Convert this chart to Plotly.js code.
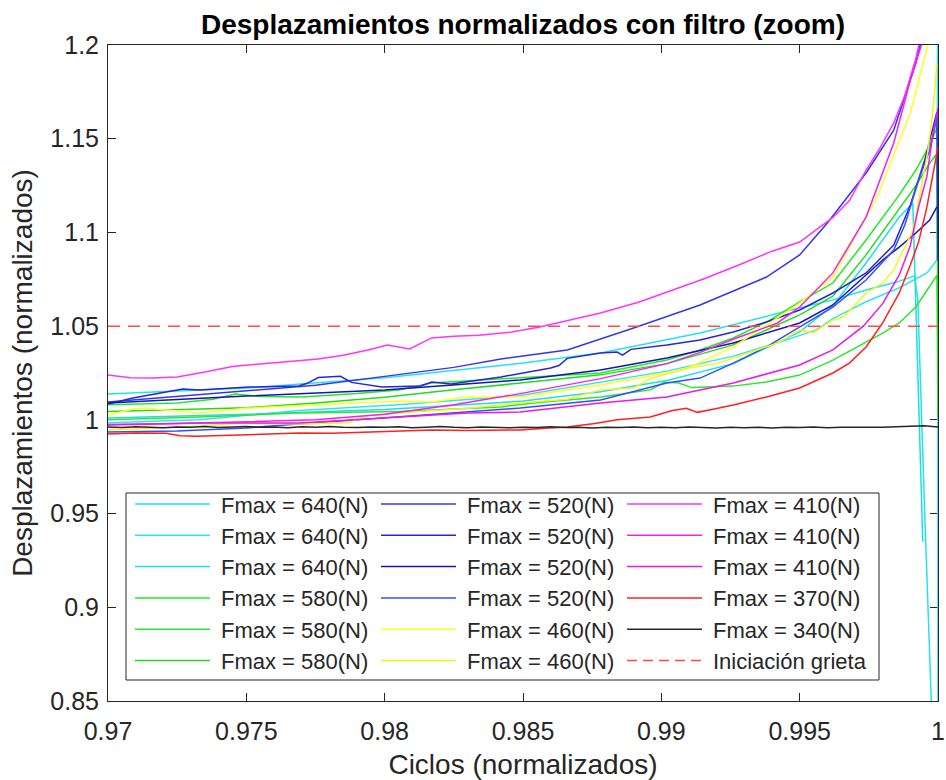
<!DOCTYPE html>
<html>
<head>
<meta charset="utf-8">
<script src="https://cdn.plot.ly/plotly-3.0.1.min.js"></script>
<style>html,body{margin:0;padding:0;background:#fff}</style>
</head>
<body>
<div id="chart" style="width:946px;height:780px"></div>
<script>
// ---- axis ticks ----
const xTickVals = [0.97, 0.975, 0.98, 0.985, 0.99, 0.995, 1];
const xTickText = ['0.97', '0.975', '0.98', '0.985', '0.99', '0.995', '1'];
const yTickVals = [0.85, 0.9, 0.95, 1, 1.05, 1.1, 1.15, 1.2];
const yTickText = ['0.85', '0.9', '0.95', '1', '1.05', '1.1', '1.15', '1.2'];

// ---- Fmax = 640 N ----
const cyan1X = [0.9700, 0.9750, 0.9800, 0.9850, 0.9878, 0.9914, 0.9944, 0.9962, 0.9974, 0.9985, 0.99916, 0.99927, 0.99952, 0.99974, 0.99990];
const cyan1Y = [1.0138, 1.0170, 1.0225, 1.0303, 1.0357, 1.0463, 1.0575, 1.0640, 1.0693, 1.0735, 1.0768, 1.0640, 0.9500, 0.8516, 0.7900];
const cyan2X = [0.9700, 0.9733, 0.9769, 0.9805, 0.9849, 0.9878, 0.9902, 0.9926, 0.9944, 0.9956, 0.9962, 0.9974, 0.9986, 0.9996, 0.99996, 0.99999, 1.0000];
const cyan2Y = [0.9985, 1.0000, 1.0050, 1.0080, 1.0130, 1.0200, 1.0260, 1.0340, 1.0420, 1.0480, 1.0540, 1.0630, 1.0705, 1.0784, 1.0853, 1.2300, 0.7900];
const cyan3X = [0.9700, 0.9750, 0.9800, 0.9850, 0.9878, 0.9902, 0.9926, 0.9950, 0.9962, 0.9974, 0.9980, 0.9986, 0.99909, 0.99945];
const cyan3Y = [1.0010, 1.0030, 1.0055, 1.0100, 1.0150, 1.0210, 1.0300, 1.0469, 1.0610, 1.0837, 1.0960, 1.1082, 1.1157, 0.9350];

// ---- Fmax = 580 N ----
const green1X = [0.9700, 0.9725, 0.9738, 0.9746, 0.9755, 0.9770, 0.9790, 0.9805, 0.9817, 0.9849, 0.9878, 0.9902, 0.9914, 0.9926, 0.9938, 0.9950, 0.9962, 0.9974, 0.9986, 0.9992, 0.9997, 0.99996];
const green1Y = [1.0080, 1.0090, 1.0110, 1.0138, 1.0125, 1.0122, 1.0140, 1.0159, 1.0197, 1.0223, 1.0250, 1.0319, 1.0373, 1.0437, 1.0522, 1.0629, 1.0730, 1.0960, 1.1200, 1.1333, 1.1466, 1.1557];
const green2X = [0.9700, 0.9733, 0.9769, 0.9805, 0.9842, 0.9854, 0.9878, 0.9896, 0.9901, 0.9906, 0.9911, 0.9926, 0.9938, 0.9950, 0.9962, 0.9974, 0.9980, 0.9986, 0.9992, 0.99996, 1.0000];
const green2Y = [1.0000, 1.0015, 1.0037, 1.0045, 1.0069, 1.0090, 1.0122, 1.0160, 1.0200, 1.0198, 1.0172, 1.0180, 1.0202, 1.0239, 1.0319, 1.0415, 1.0463, 1.0517, 1.0602, 1.0770, 1.0000];
const green3X = [0.9700, 0.9750, 0.9775, 0.9800, 0.9825, 0.9849, 0.9878, 0.9902, 0.9926, 0.9950, 0.9962, 0.9974, 0.9986, 0.9992, 0.9997, 0.99996, 1.0000];
const green3Y = [1.0045, 1.0065, 1.0090, 1.0120, 1.0160, 1.0195, 1.0240, 1.0300, 1.0400, 1.0560, 1.0660, 1.0880, 1.1130, 1.1250, 1.1370, 1.1420, 1.0430];

// ---- Fmax = 520 N ----
const blue1X = [0.9700, 0.9725, 0.9750, 0.9775, 0.9800, 0.9825, 0.9842, 0.9866, 0.9890, 0.9914, 0.9938, 0.9950, 0.9960, 0.9974, 0.9984, 0.9992, 0.9994];
const blue1Y = [1.0095, 1.0125, 1.0155, 1.0185, 1.0232, 1.0280, 1.0325, 1.0373, 1.0490, 1.0613, 1.0762, 1.0880, 1.1050, 1.1317, 1.1546, 1.1904, 1.2027];
const blue2X = [0.9700, 0.9709, 0.9727, 0.9733, 0.9751, 0.9769, 0.9772, 0.9776, 0.9784, 0.9788, 0.9799, 0.9813, 0.9817, 0.9824, 0.9842, 0.9860, 0.9863, 0.9866, 0.9878, 0.9884, 0.9886, 0.9889, 0.9902, 0.9914, 0.9926, 0.9938, 0.9950, 0.9962, 0.9974, 0.9984, 0.9990, 0.99952, 0.99996, 1.0000];
const blue2Y = [1.0085, 1.0117, 1.0165, 1.0159, 1.0175, 1.0181, 1.0195, 1.0226, 1.0232, 1.0200, 1.0175, 1.0181, 1.0202, 1.0191, 1.0229, 1.0277, 1.0290, 1.0328, 1.0357, 1.0362, 1.0345, 1.0376, 1.0399, 1.0426, 1.0469, 1.0522, 1.0586, 1.0677, 1.0784, 1.0933, 1.1146, 1.1386, 1.1642, 1.0850];
const blue3X = [0.9700, 0.9750, 0.9800, 0.9825, 0.9849, 0.9878, 0.9902, 0.9926, 0.9950, 0.9962, 0.9968, 0.9974, 0.9980, 0.9986, 0.9992, 0.9997, 0.99996];
const blue3Y = [1.0090, 1.0127, 1.0159, 1.0186, 1.0213, 1.0266, 1.0330, 1.0410, 1.0517, 1.0613, 1.0693, 1.0773, 1.0853, 1.0922, 1.0997, 1.1066, 1.1136];
const blue4X = [0.9700, 0.9725, 0.9750, 0.9775, 0.9800, 0.9825, 0.9849, 0.9878, 0.9902, 0.9914, 0.9926, 0.9938, 0.9950, 0.9962, 0.9974, 0.9984, 0.9988, 0.9993, 0.9997, 0.99996];
const blue4Y = [0.9935, 0.9941, 0.9957, 0.9983, 1.0010, 1.0037, 1.0063, 1.0106, 1.0197, 1.0223, 1.0303, 1.0389, 1.0495, 1.0602, 1.0746, 1.0906, 1.1040, 1.1280, 1.1440, 1.1610];

// ---- Fmax = 460 N ----
const yellow1X = [0.9700, 0.9709, 0.9713, 0.9721, 0.9733, 0.9751, 0.9781, 0.9805, 0.9817, 0.9829, 0.9849, 0.9878, 0.9908, 0.9926, 0.9938, 0.9950, 0.9962, 0.9978, 0.9990, 0.99963];
const yellow1Y = [1.0026, 1.0058, 1.0063, 1.0053, 1.0037, 1.0063, 1.0085, 1.0100, 1.0095, 1.0122, 1.0122, 1.0186, 1.0266, 1.0389, 1.0506, 1.0623, 1.0762, 1.1189, 1.1637, 1.2000];
const yellow2X = [0.9700, 0.9725, 0.9750, 0.9769, 0.9787, 0.9793, 0.9805, 0.9829, 0.9849, 0.9866, 0.9878, 0.9890, 0.9896, 0.9909, 0.9920, 0.9932, 0.9942, 0.9950, 0.9955, 0.9962, 0.9966, 0.9971, 0.9974, 0.9980, 0.9984, 0.9991, 0.9996, 0.99981, 0.99996];
const yellow2Y = [0.9946, 0.9960, 0.9983, 0.9978, 0.9985, 1.0020, 1.0037, 1.0060, 1.0090, 1.0110, 1.0160, 1.0170, 1.0220, 1.0275, 1.0300, 1.0360, 1.0410, 1.0480, 1.0465, 1.0533, 1.0550, 1.0630, 1.0677, 1.0730, 1.0800, 1.1013, 1.1402, 1.1637, 1.1900];

// ---- Fmax = 410 N ----
const magenta1X = [0.9700, 0.9708, 0.9716, 0.9725, 0.9735, 0.9745, 0.9755, 0.9766, 0.9776, 0.9785, 0.9794, 0.9801, 0.9809, 0.9817, 0.9825, 0.9834, 0.9846, 0.9856, 0.9866, 0.9878, 0.9892, 0.9904, 0.9915, 0.9928, 0.9940, 0.9950, 0.9956, 0.9962, 0.9968, 0.9974, 0.9979, 0.9984, 0.9988, 0.9992, 0.9994];
const magenta1Y = [1.0239, 1.0225, 1.0223, 1.0229, 1.0255, 1.0285, 1.0298, 1.0312, 1.0325, 1.0345, 1.0373, 1.0399, 1.0378, 1.0437, 1.0446, 1.0452, 1.0469, 1.0495, 1.0530, 1.0570, 1.0629, 1.0690, 1.0750, 1.0826, 1.0900, 1.0949, 1.1013, 1.1080, 1.1170, 1.1333, 1.1450, 1.1584, 1.1730, 1.1930, 1.2060];
const magenta2X = [0.9700, 0.9725, 0.9750, 0.9775, 0.9800, 0.9825, 0.9849, 0.9878, 0.9902, 0.9914, 0.9926, 0.9942, 0.9950, 0.9962, 0.9974, 0.9984, 0.9990, 0.9994];
const magenta2Y = [0.9975, 0.9980, 0.9990, 1.0000, 1.0030, 1.0080, 1.0140, 1.0220, 1.0300, 1.0360, 1.0430, 1.0517, 1.0602, 1.0784, 1.1082, 1.1477, 1.1813, 1.2000];
const magenta3X = [0.9700, 0.9733, 0.9769, 0.9805, 0.9830, 0.9849, 0.9878, 0.9902, 0.9926, 0.9950, 0.9962, 0.9973, 0.9980, 0.9986, 0.9990, 0.9993, 0.9996, 0.9998, 1.0000];
const magenta3Y = [0.9973, 0.9983, 0.9983, 1.0015, 1.0037, 1.0042, 1.0090, 1.0122, 1.0197, 1.0293, 1.0373, 1.0500, 1.0620, 1.0773, 1.0930, 1.1136, 1.1300, 1.1509, 1.1664];

// ---- Fmax = 370 N ----
const redX = [0.9700, 0.9710, 0.9721, 0.9726, 0.9732, 0.9745, 0.9757, 0.9769, 0.9781, 0.9793, 0.9805, 0.9817, 0.9830, 0.9849, 0.9858, 0.9866, 0.9876, 0.9884, 0.9896, 0.9904, 0.9909, 0.9913, 0.9920, 0.9926, 0.9938, 0.9950, 0.9962, 0.9968, 0.9974, 0.9980, 0.9986, 0.9990, 0.9993, 0.9996, 1.0000];
const redY = [0.9925, 0.9930, 0.9928, 0.9915, 0.9912, 0.9919, 0.9925, 0.9930, 0.9928, 0.9935, 0.9940, 0.9946, 0.9943, 0.9946, 0.9955, 0.9962, 0.9980, 1.0000, 1.0015, 1.0050, 1.0062, 1.0040, 1.0060, 1.0079, 1.0122, 1.0170, 1.0250, 1.0303, 1.0389, 1.0517, 1.0677, 1.0826, 1.0950, 1.1136, 1.1456];

// ---- Fmax = 340 N ----
const blackX = [0.9700, 0.9705, 0.9710, 0.9715, 0.9720, 0.9725, 0.9730, 0.9735, 0.9740, 0.9745,
                0.9750, 0.9755, 0.9760, 0.9765, 0.9770, 0.9775, 0.9780, 0.9785, 0.9790, 0.9795,
                0.9800, 0.9805, 0.9810, 0.9815, 0.9820, 0.9825, 0.9830, 0.9835, 0.9840, 0.9845,
                0.9850, 0.9855, 0.9860, 0.9865, 0.9870, 0.9875, 0.9880, 0.9885, 0.9890, 0.9895,
                0.9900, 0.9905, 0.9910, 0.9915, 0.9920, 0.9925, 0.9930, 0.9935, 0.9940, 0.9945,
                0.9950, 0.9955, 0.9960, 0.9965, 0.9970, 0.9975, 0.9980, 0.9985, 0.9990, 0.9995, 1.0000];
const blackY = [0.9962, 0.9959, 0.9963, 0.9960, 0.9958, 0.9962, 0.9961, 0.9964, 0.9959, 0.9962,
                0.9964, 0.9960, 0.9962, 0.9958, 0.9963, 0.9961, 0.9965, 0.9961, 0.9959, 0.9962,
                0.9960, 0.9963, 0.9958, 0.9961, 0.9964, 0.9960, 0.9958, 0.9962, 0.9960, 0.9958,
                0.9961, 0.9959, 0.9963, 0.9959, 0.9961, 0.9957, 0.9961, 0.9959, 0.9962, 0.9958,
                0.9960, 0.9958, 0.9962, 0.9959, 0.9957, 0.9961, 0.9958, 0.9960, 0.9957, 0.9961,
                0.9959, 0.9962, 0.9958, 0.9960, 0.9959, 0.9961, 0.9960, 0.9963, 0.9966, 0.9969, 0.9962];

// ---- crack initiation threshold ----
const crackX = [0.97, 1.0];
const crackY = [1.05, 1.05];

// names and colours, in plotting / legend order
const seriesNames = [
  'Fmax = 640(N)', 'Fmax = 640(N)', 'Fmax = 640(N)',
  'Fmax = 580(N)', 'Fmax = 580(N)', 'Fmax = 580(N)',
  'Fmax = 520(N)', 'Fmax = 520(N)', 'Fmax = 520(N)', 'Fmax = 520(N)',
  'Fmax = 460(N)', 'Fmax = 460(N)',
  'Fmax = 410(N)', 'Fmax = 410(N)', 'Fmax = 410(N)',
  'Fmax = 370(N)', 'Fmax = 340(N)', 'Iniciación grieta'
];
const seriesColors = [
  '#22e3ec', '#30e6ee', '#1fdde8',
  '#22ea22', '#30e430', '#1fdc1f',
  '#3535ee', '#2626d4', '#1414b8', '#3050ff',
  '#ffff1f', '#f4f41c',
  '#ff33ff', '#f022f0', '#e81ae8',
  '#ff2020', '#262626', '#ff4a4a'
];
const seriesX = [cyan1X, cyan2X, cyan3X, green1X, green2X, green3X,
                 blue1X, blue2X, blue3X, blue4X, yellow1X, yellow2X,
                 magenta1X, magenta2X, magenta3X, redX, blackX, crackX];
const seriesY = [cyan1Y, cyan2Y, cyan3Y, green1Y, green2Y, green3Y,
                 blue1Y, blue2Y, blue3Y, blue4Y, yellow1Y, yellow2Y,
                 magenta1Y, magenta2Y, magenta3Y, redY, blackY, crackY];

const LINE_W = 1.5;
const dashedIdx = seriesNames.length - 1;

const traces = seriesNames.map((name, i) => ({
  type: 'scatter',
  mode: 'lines',
  name: name,
  x: seriesX[i],
  y: seriesY[i],
  line: {color: seriesColors[i], width: LINE_W, dash: i === dashedIdx ? '12px,8px' : 'solid'},
  showlegend: false,
  hoverinfo: 'skip'
}));

// ---- page geometry (pixels) ----
const W = 946, H = 780;
const M = {l: 108, r: 8, t: 45, b: 79};
const plotW = W - M.l - M.r, plotH = H - M.t - M.b;
const fx = px => (px - M.l) / plotW;
const fy = py => (H - M.b - py) / plotH;

// ---- boxed legend: 3 columns x 6 rows, filled column by column ----
const TXT = '#262626';
const legBox = {x0: 126, x1: 879, y0: 493, y1: 680};
const rowY0 = 504, rowStep = 31.3;
const colStep = 246, lineX0 = 135, lineLen = 75, textX0 = 219;

const shapes = [{
  type: 'rect', xref: 'paper', yref: 'paper', layer: 'above',
  x0: fx(legBox.x0), x1: fx(legBox.x1), y0: fy(legBox.y1), y1: fy(legBox.y0),
  line: {color: TXT, width: 1}, fillcolor: 'white'
}];
const annotations = [];
seriesNames.forEach((name, i) => {
  const col = Math.floor(i / 6), row = i % 6;
  const py = rowY0 + row * rowStep;
  const lx = lineX0 + col * colStep;
  shapes.push({
    type: 'line', xref: 'paper', yref: 'paper', layer: 'above',
    x0: fx(lx), x1: fx(lx + lineLen), y0: fy(py), y1: fy(py),
    line: {color: seriesColors[i], width: LINE_W, dash: i === dashedIdx ? '10px,6px' : 'solid'}
  });
  annotations.push({
    xref: 'paper', yref: 'paper', x: fx(textX0 + col * colStep), y: fy(py + 1),
    xanchor: 'left', yanchor: 'middle', showarrow: false,
    text: name, font: {size: 22, color: TXT}
  });
});

const axisCommon = {
  ticks: 'inside', ticklen: 8, tickwidth: 1, tickcolor: TXT,
  showline: true, linecolor: TXT, linewidth: 1, mirror: 'ticks',
  showgrid: false, zeroline: false, fixedrange: true,
  tickfont: {size: 25, color: TXT}, layer: 'below traces', automargin: false
};

const layout = {
  width: W, height: H,
  margin: {l: M.l, r: M.r, t: M.t, b: M.b, pad: 0},
  paper_bgcolor: 'white', plot_bgcolor: 'white',
  font: {family: '"Liberation Sans", Arial, Helvetica, sans-serif', color: TXT},
  showlegend: false,
  title: {
    text: 'Desplazamientos normalizados con filtro (zoom)',
    font: {size: 28, color: '#000', weight: 'bold'},
    x: 0.5, xref: 'paper', xanchor: 'center',
    y: 1 - 24 / H, yref: 'container', yanchor: 'middle'
  },
  xaxis: Object.assign({}, axisCommon, {
    range: [0.97, 1], tickmode: 'array', tickvals: xTickVals, ticktext: xTickText,
    ticklabelstandoff: 8,
    title: {text: 'Ciclos (normalizados)', font: {size: 28, color: TXT}, standoff: 12}
  }),
  yaxis: Object.assign({}, axisCommon, {
    range: [0.85, 1.2], tickmode: 'array', tickvals: yTickVals, ticktext: yTickText,
    ticklabelstandoff: 3,
    title: {text: 'Desplazamientos (normalizados)', font: {size: 28, color: TXT}, standoff: 9}
  }),
  shapes: shapes,
  annotations: annotations
};

Plotly.newPlot('chart', traces, layout, {staticPlot: true, displayModeBar: false});
</script>
</body>
</html>
